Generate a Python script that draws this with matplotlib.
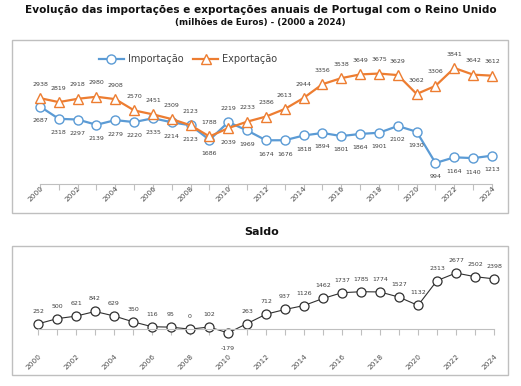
import numpy as np
import matplotlib.pyplot as plt
from matplotlib.patches import Rectangle

anos = list(range(2000, 2025))
importacao = [2687, 2318, 2297, 2139, 2279, 2220, 2335, 2214, 2123, 1686, 2219, 1969, 1674,
              1676, 1818, 1894, 1801, 1864, 1901, 2102, 1930, 994, 1164, 1140, 1213]
exportacao = [2938, 2819, 2918, 2980, 2908, 2570, 2451, 2309, 2123, 1788, 2039, 2233, 2386,
              2613, 2944, 3356, 3538, 3649, 3675, 3629, 3062, 3306, 3841, 3642, 3612]
saldo = [252, 500, 621, 842, 629, 350, 116, 95, 0, 102, -179, 263, 712,
         937, 1126, 1462, 1737, 1785, 1774, 1527, 1132, 2313, 2677, 2502, 2398]

W, H = 521, 386
azul = '#5b9bd5'
laranja = '#ed7d31'
cinza = '#bfbfbf'
txt = '#404040'

fig = plt.figure(figsize=(W / 100, H / 100), dpi=100)


def px_axes(x0, y0, x1, y1):
    return fig.add_axes([x0 / W, 1 - y1 / H, (x1 - x0) / W, (y1 - y0) / H])


# caixas
for (x0, y0, x1, y1) in [(12, 40, 508, 213), (12, 246, 508, 375)]:
    fig.patches.append(Rectangle((x0 / W, 1 - y1 / H), (x1 - x0) / W, (y1 - y0) / H,
                                 transform=fig.transFigure, fill=False, ec=cinza, lw=1))

fig.text(0.5, 1 - 10 / H, 'Evolução das importações e exportações anuais de Portugal com o Reino Unido',
         ha='center', va='center', fontsize=7.6, fontweight='bold', color='#111111')
fig.text(0.5, 1 - 23 / H, '(milhões de Euros) - (2000 a 2024)',
         ha='center', va='center', fontsize=6.3, fontweight='bold', color='#111111')
fig.text(262 / W, 1 - 232 / H, 'Saldo', ha='center', va='center', fontsize=8,
         fontweight='bold', color='#111111')

labels_x = [str(a) if a % 2 == 0 else '' for a in anos]


def estilo(ax):
    for s in ['left', 'right', 'bottom']:
        ax.spines[s].set_visible(False)
    ax.spines['top'].set_color(cinza)
    ax.spines['top'].set_bounds(2000, 2024)
    ax.set_yticks([])
    ax.set_xticks(anos, labels=labels_x)
    ax.tick_params(axis='x', top=True, bottom=False, labeltop=False, labelbottom=True,
                   direction='in', length=4, color=cinza, labelsize=5.3,
                   labelcolor='#505050', pad=1, labelrotation=45)
    ax.patch.set_visible(False)


# grafico de cima
ax1 = px_axes(20, 45, 505, 184)
ax1.set_xlim(1998.94, 2024.69)
ax1.set_ylim(364, 4531)
estilo(ax1)
ax1.spines['top'].set_position(('data', 364))
ax1.plot(anos, importacao, color=azul, lw=1.6, marker='o', ms=6.5, mfc='white',
         mec=azul, mew=1, label='Importação', clip_on=False)
ax1.plot(anos, exportacao, color=laranja, lw=1.6, marker='^', ms=7, mfc='white',
         mec=laranja, mew=1, label='Exportação', clip_on=False)
for i, a in enumerate(anos):
    imp_up = importacao[i] > exportacao[i]
    ax1.annotate(str(importacao[i]), (a, importacao[i]), xytext=(0, 10 if imp_up else -10),
                 textcoords='offset points', ha='center', va='center', fontsize=4.5, color=txt)
    ax1.annotate(str(exportacao[i]), (a, exportacao[i]), xytext=(0, -10 if imp_up else 10),
                 textcoords='offset points', ha='center', va='center', fontsize=4.5, color=txt)
ax1.legend(loc='center', bbox_to_anchor=(188 / W, 1 - 59 / H), bbox_transform=fig.transFigure,
           ncol=2, frameon=False, fontsize=7, handlelength=2.6, columnspacing=1.0,
           handletextpad=0.4, labelcolor=txt)

# saldo
ax2 = px_axes(20, 250, 505, 352)
ax2.set_xlim(1999.05, 2024.58)
ax2.set_ylim(-1090, 3774)
estilo(ax2)
ax2.spines['top'].set_position(('data', 0))
ax2.plot(anos, saldo, color='#303030', lw=0.8, marker='o', ms=6.5, mfc='white',
         mec='#303030', mew=0.9, clip_on=False)
for a, v in zip(anos, saldo):
    ax2.annotate(str(v), (a, v), xytext=(0, 9 if v >= 0 else -11), textcoords='offset points',
                 ha='center', va='center', fontsize=4.5, color=txt)

for ax in (ax1, ax2):
    plt.setp(ax.get_xticklabels(), ha='right', rotation_mode='anchor')

fig.savefig('out.png', dpi=100)
